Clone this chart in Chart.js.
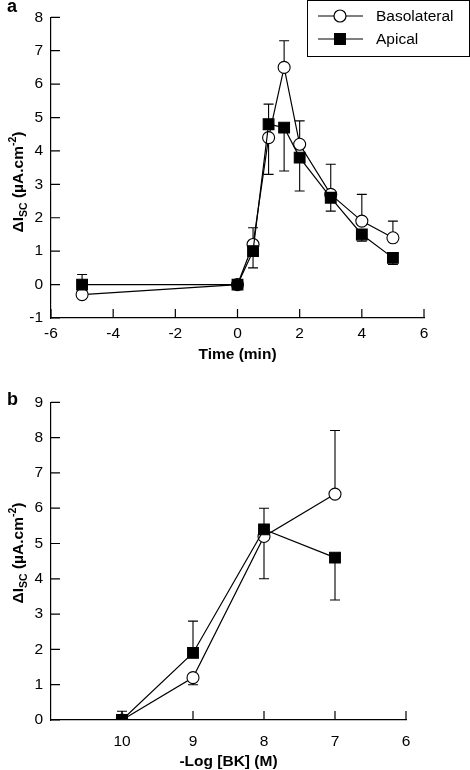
<!DOCTYPE html>
<html>
<head>
<meta charset="utf-8">
<script src="https://cdn.jsdelivr.net/npm/chart.js@4.4.1/dist/chart.umd.min.js"></script>
<style>
  html, body { margin: 0; padding: 0; background: #fff; }
  #wrap { position: relative; width: 470px; height: 770px; }
  .panel { position: absolute; left: 0; width: 470px; height: 385px; }
  #pa { top: 0; }
  #pb { top: 385px; }
</style>
</head>
<body>
<div id="wrap">
  <div class="panel" id="pa"><canvas id="chartA" width="470" height="385"></canvas></div>
  <div class="panel" id="pb"><canvas id="chartB" width="470" height="385"></canvas></div>
</div>
<script>
// panel a - time course after BK
const timeMin      = [-5, 0, 0.5, 1, 1.5, 2, 3, 4, 5]
const basoTime     = [-0.3, 0, 1.2, 4.4, 6.5, 4.2, 2.7, 1.9, 1.4]
const basoTimeSem  = [0, 0, 0.5, 1.1, 0.8, 0.7, 0.9, 0.8, 0.5]
const basoTimeDir  = [1, 1, 1, -1, 1, 1, 1, 1, 1]
const apicTime     = [0, 0, 1.0, 4.8, 4.7, 3.8, 2.6, 1.5, 0.8]
const apicTimeSem  = [0.3, 0, 0.5, 0.6, 1.3, 1.0, 0.4, 0.2, 0.2]
const apicTimeDir  = [1, 1, -1, 1, -1, -1, -1, -1, -1]

// panel b - dose response
const logDose      = [10, 9, 8, 7]
const basoDose     = [0, 1.2, 5.2, 6.4]
const basoDoseSem  = [0, 0.2, 1.2, 1.8]
const basoDoseDir  = [1, -1, -1, 1]
const apicDose     = [0, 1.9, 5.4, 4.6]
const apicDoseSem  = [0.25, 0.9, 0.6, 1.2]
const apicDoseDir  = [1, 1, 1, -1]

const seriesNames  = ['Basolateral', 'Apical']

const FONT = "'Liberation Sans', Arial, Helvetica, sans-serif"
const INK  = '#000'

// one-sided SEM bars, drawn under the markers
const errorBars = {
  id: 'errorBars',
  beforeDatasetsDraw(chart) {
    const ctx = chart.ctx, y = chart.scales.y
    chart.data.datasets.forEach((ds, i) => {
      if (!ds.sem) return
      const meta = chart.getDatasetMeta(i)
      ctx.save()
      ctx.strokeStyle = INK
      ctx.lineWidth = 1.1
      meta.data.forEach((pt, j) => {
        const s = ds.sem[j]
        if (!s) return
        const v  = ds.data[j].y
        const y0 = y.getPixelForValue(v)
        const y1 = y.getPixelForValue(v + ds.semDir[j] * s)
        ctx.beginPath()
        ctx.moveTo(pt.x, y0); ctx.lineTo(pt.x, y1)
        ctx.moveTo(pt.x - 5, y1); ctx.lineTo(pt.x + 5, y1)
        ctx.stroke()
      })
      ctx.restore()
    })
  }
}

// inward tick marks, panel letter, y title with sub/superscript, boxed legend
const decorations = {
  id: 'decorations',
  afterDraw(chart, args, opts) {
    const ctx = chart.ctx
    ctx.save()
    ctx.strokeStyle = INK
    ctx.lineWidth = 1.2
    const xs = chart.scales.x, ys = chart.scales.y
    const area = chart.chartArea
    ctx.beginPath()
    xs.ticks.forEach((t, i) => {
      if (opts.skipX && opts.skipX.includes(t.value)) return
      const px = xs.getPixelForTick(i)
      ctx.moveTo(px, area.bottom); ctx.lineTo(px, area.bottom - 9)
    })
    ys.ticks.forEach((t, i) => {
      const py = ys.getPixelForTick(i)
      ctx.moveTo(area.left, py); ctx.lineTo(area.left + 9, py)
    })
    ctx.stroke()

    // panel letter
    ctx.fillStyle = INK
    ctx.font = `bold 18px ${FONT}`
    ctx.textBaseline = 'alphabetic'
    ctx.textAlign = 'left'
    ctx.fillText(opts.letter, 7, opts.letterY)

    // y title: ΔI_SC (µA.cm^-2)
    const parts = [
      { t: 'ΔI', size: 15.5, dy: 0 },
      { t: 'SC', size: 10.5, dy: 4 },
      { t: ' (µA.cm', size: 15.5, dy: 0 },
      { t: '-2', size: 10.5, dy: -7 },
      { t: ')', size: 15.5, dy: 0 }
    ]
    let total = 0
    parts.forEach(p => { ctx.font = `bold ${p.size}px ${FONT}`; p.w = ctx.measureText(p.t).width; total += p.w })
    ctx.translate(opts.titleX, opts.titleY)
    ctx.rotate(-Math.PI / 2)
    let cx = -total / 2
    parts.forEach(p => {
      ctx.font = `bold ${p.size}px ${FONT}`
      ctx.fillText(p.t, cx, p.dy)
      cx += p.w
    })
    ctx.setTransform(1, 0, 0, 1, 0, 0)

    // legend
    if (opts.legend) {
      const L = opts.legend
      ctx.lineWidth = 1
      ctx.strokeRect(L.x + 0.5, L.y + 0.5, L.w, L.h)
      chart.data.datasets.forEach((ds, i) => {
        const ly = L.y + 16 + i * 23
        ctx.lineWidth = 1.2
        ctx.beginPath()
        ctx.moveTo(L.x + 11, ly); ctx.lineTo(L.x + 56, ly)
        ctx.stroke()
        ctx.fillStyle = ds.pointBackgroundColor
        ctx.strokeStyle = ds.pointBorderColor
        Chart.helpers.drawPoint(ctx, {
          pointStyle: ds.pointStyle, radius: ds.pointRadius, borderWidth: ds.pointBorderWidth
        }, L.x + 33, ly)
        ctx.fillStyle = INK
        ctx.strokeStyle = INK
        ctx.font = `15.5px ${FONT}`
        ctx.textBaseline = 'middle'
        ctx.fillText(ds.label, L.x + 69, ly + 1)
      })
    }
    ctx.restore()
  }
}

function series(name, xs, ys, sem, dir, isApical) {
  return {
    label: name,
    data: xs.map((x, i) => ({ x, y: ys[i] })),
    sem, semDir: dir,
    borderColor: INK,
    borderWidth: 1.2,
    tension: 0,
    fill: false,
    pointStyle: isApical ? 'rect' : 'circle',
    pointRadius: isApical ? 7.6 : 6,
    pointBackgroundColor: isApical ? INK : '#fff',
    pointBorderColor: INK,
    pointBorderWidth: 1.1,
    order: isApical ? 0 : 1
  }
}

function axisX(min, max, step, title, xHeight, titlePad, tickPad, reverse, hide) {
  return {
    type: 'linear', min, max, reverse,
    afterFit: s => { s.height = xHeight },
    grid: { display: false, drawTicks: false },
    border: { display: true, color: INK, width: 1.2 },
    ticks: {
      stepSize: step, color: INK, padding: tickPad, maxRotation: 0,
      font: { family: FONT, size: 15.5 },
      callback: v => (hide && hide.includes(v)) ? '' : v
    },
    title: {
      display: true, text: title, color: INK,
      font: { family: FONT, size: 15.5, weight: 'bold', lineHeight: 1 },
      padding: { top: 0, bottom: titlePad }
    }
  }
}

function axisY(min, max) {
  return {
    type: 'linear', min, max,
    afterFit: s => { s.width = 51 },
    grid: { display: false, drawTicks: false },
    border: { display: true, color: INK, width: 1.2 },
    ticks: { stepSize: 1, color: INK, padding: 8, font: { family: FONT, size: 15.5 } }
  }
}

const baseOptions = {
  responsive: false,
  animation: false,
  events: [],
  plugins: { legend: { display: false }, tooltip: { enabled: false } }
}

new Chart(document.getElementById('chartA'), {
  type: 'line',
  data: {
    datasets: [
      series(seriesNames[0], timeMin, basoTime, basoTimeSem, basoTimeDir, false),
      series(seriesNames[1], timeMin, apicTime, apicTimeSem, apicTimeDir, true)
    ]
  },
  options: {
    ...baseOptions,
    layout: { padding: { left: 0, top: 11, right: 46, bottom: 0 } },
    scales: {
      x: axisX(-6, 6, 2, 'Time (min)', 67, 23, 6, false, null),
      y: axisY(-1, 8)
    },
    plugins: {
      ...baseOptions.plugins,
      decorations: {
        letter: 'a', letterY: 12, titleX: 23, titleY: 182,
        legend: { x: 307, y: 0, w: 162, h: 56 }
      }
    }
  },
  plugins: [errorBars, decorations]
})

new Chart(document.getElementById('chartB'), {
  type: 'line',
  data: {
    datasets: [
      series(seriesNames[0], logDose, basoDose, basoDoseSem, basoDoseDir, false),
      series(seriesNames[1], logDose, apicDose, apicDoseSem, apicDoseDir, true)
    ]
  },
  options: {
    ...baseOptions,
    layout: { padding: { left: 0, top: 10, right: 64, bottom: 0 } },
    scales: {
      x: axisX(6, 11, 1, '-Log [BK] (M)', 50, 1, 12, true, [11]),
      y: axisY(0, 9)
    },
    plugins: {
      ...baseOptions.plugins,
      decorations: {
        letter: 'b', letterY: 20, titleX: 23, titleY: 168, skipX: [11]
      }
    }
  },
  plugins: [errorBars, decorations]
})
</script>
</body>
</html>
